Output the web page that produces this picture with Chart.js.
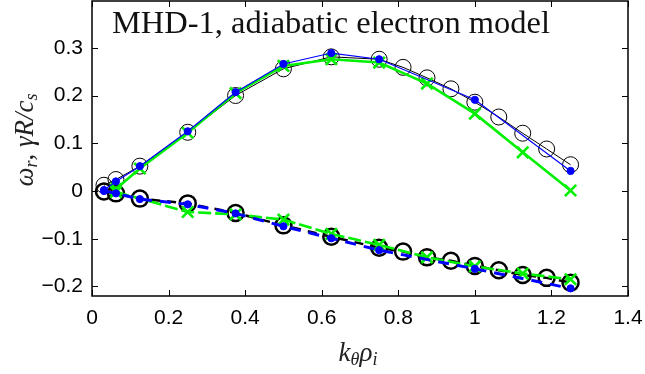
<!DOCTYPE html>
<html>
<head>
<meta charset="utf-8">
<script src="https://cdn.jsdelivr.net/npm/chart.js@4.4.1/dist/chart.umd.min.js"></script>
<style>
html,body{margin:0;padding:0;background:#fff;}
#wrap{width:645px;height:374px;position:relative;}
</style>
</head>
<body>
<div id="wrap"><canvas id="c" width="645" height="374"></canvas></div>
<script>
// ---- data ----
const kBlack = [0.03125,0.0625,0.125,0.25,0.375,0.5,0.625,0.75,0.8125,0.875,0.9375,1.0,1.0625,1.125,1.1875,1.25];
const gammaBlack = [0.012,0.024,0.052,0.123,0.200,0.256,0.281,0.276,0.259,0.237,0.214,0.186,0.155,0.121,0.088,0.055];
const omegaBlack = [-0.001,-0.005,-0.016,-0.026,-0.046,-0.072,-0.096,-0.119,-0.127,-0.139,-0.146,-0.157,-0.166,-0.176,-0.182,-0.192];

const kBlue = [0.03125,0.0625,0.125,0.25,0.375,0.5,0.625,0.75,1.0,1.25];
const gammaBlue = [0.002,0.020,0.052,0.125,0.207,0.266,0.289,0.276,0.191,0.042];
const omegaBlue = [0.000,-0.005,-0.017,-0.028,-0.047,-0.074,-0.099,-0.124,-0.163,-0.204];

const kGreen = [0.0625,0.125,0.25,0.375,0.5,0.625,0.75,0.875,1.0,1.125,1.25];
const gammaGreen = [0.004,0.047,0.122,0.205,0.262,0.276,0.269,0.225,0.162,0.081,0.001];
const kGreenLow = [0.0625,0.25,0.375,0.5,0.625,0.75,0.875,1.0,1.125,1.25];
const omegaGreen = [-0.002,-0.044,-0.049,-0.060,-0.090,-0.113,-0.139,-0.158,-0.173,-0.185];

const xTicks = [0,0.2,0.4,0.6,0.8,1,1.2,1.4];
const yTicks = [-0.2,-0.1,0,0.1,0.2,0.3];
const titleText = "MHD-1, adiabatic electron model";

const pts = (xs, ys) => xs.map((x,i)=>({x:x,y:ys[i]}));

const BLUE = '#0000ff', GREEN = '#00f000', BLACK = '#000000';

const datasets = [
  {data:pts(kBlue,gammaBlue), borderColor:BLUE, borderWidth:1.2, pointRadius:3.6, pointBackgroundColor:BLUE, pointBorderColor:BLUE, pointBorderWidth:1, order:1},
  {data:pts(kBlue,omegaBlue), borderColor:BLUE, borderWidth:3, borderDash:[11,8], pointRadius:3.6, pointBackgroundColor:BLUE, pointBorderColor:BLUE, pointBorderWidth:1, order:2},
  {data:pts(kGreen,gammaGreen), borderColor:GREEN, borderWidth:2.6, pointStyle:'crossRot', pointRadius:8, pointBorderColor:GREEN, pointBorderWidth:2.6, order:3},
  {data:pts(kGreenLow,omegaGreen), borderColor:GREEN, borderWidth:2.6, borderDash:[13,4], pointStyle:'crossRot', pointRadius:8, pointBorderColor:GREEN, pointBorderWidth:2.6, order:4},
  {data:pts(kBlack,gammaBlack), borderColor:BLACK, borderWidth:1, pointRadius:8, pointBackgroundColor:'rgba(0,0,0,0)', pointBorderColor:BLACK, pointBorderWidth:1, order:5},
  {data:pts(kBlack,omegaBlack), borderColor:BLACK, borderWidth:2.5, borderDash:[9,7], pointRadius:8, pointBackgroundColor:'rgba(0,0,0,0)', pointBorderColor:BLACK, pointBorderWidth:2.5, order:6}
];
datasets.forEach(d=>{d.showLine=true; d.fill=false; d.tension=0; d.pointHoverRadius=d.pointRadius; d.clip=false;});

const fmt = v => { const s = (Math.round(v*10)/10).toString(); return s.replace('-', '\u2212'); };

function drawRich(ctx, parts, x, y, align) {
  let total = 0;
  parts.forEach(p=>{ctx.font=p[1]; total += ctx.measureText(p[0]).width;});
  let cx = align==='center' ? x - total/2 : x;
  parts.forEach(p=>{ctx.font=p[1]; ctx.fillText(p[0], cx, y + (p[2]||0)); cx += ctx.measureText(p[0]).width;});
}

const framePlugin = {
  id:'frame',
  afterDatasetsDraw(chart){
    const {ctx, chartArea:a, scales} = chart;
    ctx.save();
    ctx.strokeStyle='#000'; ctx.lineWidth=1.5; ctx.setLineDash([]);
    ctx.strokeRect(a.left, a.top, a.right-a.left, a.bottom-a.top);
    ctx.lineWidth=1;
    const L=6;
    ctx.beginPath();
    xTicks.forEach(v=>{const px=Math.round(scales.x.getPixelForValue(v))+0.5;
      ctx.moveTo(px,a.bottom); ctx.lineTo(px,a.bottom-L);
      ctx.moveTo(px,a.top); ctx.lineTo(px,a.top+L);});
    yTicks.forEach(v=>{const py=Math.round(scales.y.getPixelForValue(v))+0.5;
      ctx.moveTo(a.left,py); ctx.lineTo(a.left+L,py);
      ctx.moveTo(a.right,py); ctx.lineTo(a.right-L,py);});
    ctx.stroke();
    // title
    ctx.fillStyle='#111';
    ctx.textBaseline='alphabetic'; ctx.textAlign='left';
    let fs=30; ctx.font=fs+'px "Liberation Serif"';
    const w=ctx.measureText(titleText).width; fs = fs*438/w;
    ctx.font=fs.toFixed(2)+'px "Liberation Serif"';
    ctx.fillText(titleText, 112, 33);
    // x label
    ctx.fillStyle='#222';
    const big='italic 27px "Liberation Serif"', sub='italic 18px "Liberation Serif"';
    drawRich(ctx, [['k',big,0],['\u03B8',sub,4],['\u03C1',big,0],['i',sub,4]], 358, 361, 'center');
    // y label
    ctx.translate(33,140); ctx.rotate(-Math.PI/2);
    drawRich(ctx, [['\u03C9',big,0],['r',sub,4],[', ','27px "Liberation Serif"',0],['\u03B3R/c',big,0],['s',sub,4]], 0, 0, 'center');
    ctx.restore();
  }
};

const noPad = s => { s.paddingLeft=0; s.paddingRight=0; s.paddingTop=0; s.paddingBottom=0; };

new Chart(document.getElementById('c'), {
  type:'scatter',
  data:{datasets},
  options:{
    responsive:false, animation:false, devicePixelRatio:1,
    layout:{autoPadding:false, padding:{left:0,right:17,top:1,bottom:0}},
    plugins:{legend:{display:false}, tooltip:{enabled:false}},
    scales:{
      x:{type:'linear', min:0, max:1.4,
        afterBuildTicks:s=>{s.ticks = xTicks.map(v=>({value:v}));},
        afterFit:s=>{s.height=78; noPad(s);},
        grid:{display:false, drawTicks:false}, border:{display:false},
        ticks:{callback:v=>fmt(v), color:'#000', padding:10, maxRotation:0, autoSkip:false, font:{family:'"Liberation Sans"', size:21}}},
      y:{type:'linear', min:-0.22, max:0.398,
        afterBuildTicks:s=>{s.ticks = yTicks.map(v=>({value:v}));},
        afterFit:s=>{s.width=92; noPad(s);},
        grid:{display:false, drawTicks:false}, border:{display:false},
        ticks:{callback:v=>fmt(v), color:'#000', padding:9, autoSkip:false, font:{family:'"Liberation Sans"', size:21}}}
    }
  },
  plugins:[framePlugin]
});
</script>
</body>
</html>
